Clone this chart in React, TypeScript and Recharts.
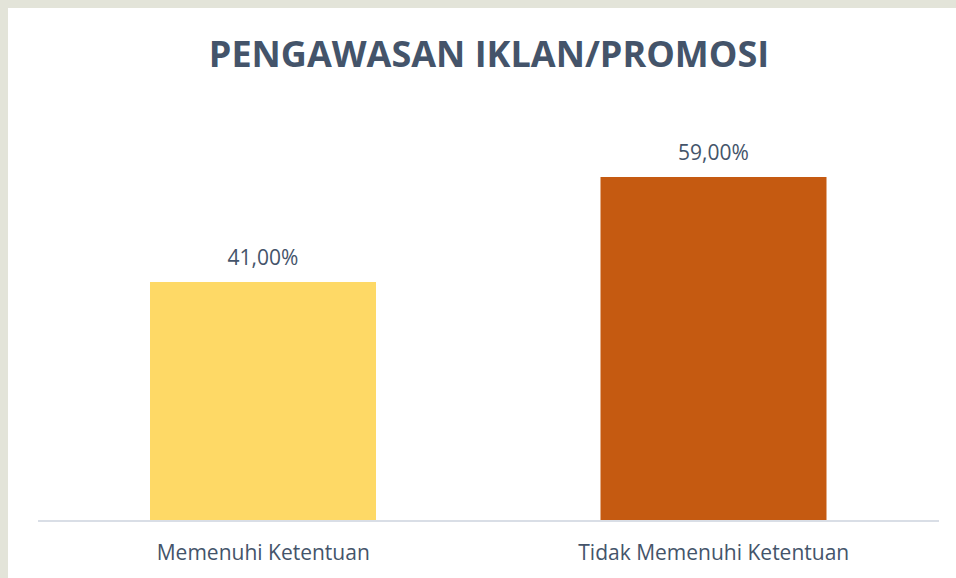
import { BarChart, Bar, XAxis, YAxis, Cell, LabelList } from 'recharts'

const categories = ['Memenuhi Ketentuan', 'Tidak Memenuhi Ketentuan']
const percentages = [41, 59]
const barColors = ['#FED966', '#C55A11']
const chartTitle = 'PENGAWASAN IKLAN/PROMOSI'

const data = categories.map((name, i) => ({ name, value: percentages[i] }))

const formatPct = (v: number) => v.toFixed(2).replace('.', ',') + '%'

const slate = '#44546A'
const font = '"Open Sans", sans-serif'

export default function App() {
    return (
        <div style={{ position: 'fixed', left: 0, top: 0, width: 956, height: 578, background: '#E3E4D9', overflow: 'hidden', fontFamily: font }}>
            <div style={{ position: 'absolute', left: 8, top: 8, width: 948, height: 570, background: '#ffffff' }} />
            <div style={{ position: 'absolute', left: 1, top: 0 }}>
                <BarChart
                    width={956}
                    height={578}
                    data={data}
                    margin={{ top: 113, right: 18, left: 37, bottom: 0 }}
                    barSize={226}
                >
                    <text x={488} y={67} textAnchor="middle" fontSize={36} fontWeight={700} fill={slate} fontFamily={font}>
                        {chartTitle}
                    </text>
                    <XAxis
                        dataKey="name"
                        height={57}
                        axisLine={{ stroke: '#D9DEE6', strokeWidth: 2 }}
                        tickLine={false}
                        tickSize={0}
                        tickMargin={24}
                        tick={{ fontSize: 21, fill: slate, fontFamily: font }}
                    />
                    <YAxis hide domain={[0, 70]} />
                    <Bar dataKey="value" isAnimationActive={false}>
                        {data.map((d, i) => (
                            <Cell key={d.name} fill={barColors[i]} />
                        ))}
                        <LabelList
                            dataKey="value"
                            position="top"
                            offset={17}
                            formatter={(v: any) => formatPct(Number(v))}
                            style={{ fontSize: 21, fill: slate, fontFamily: font }}
                        />
                    </Bar>
                </BarChart>
            </div>
        </div>
    )
}
